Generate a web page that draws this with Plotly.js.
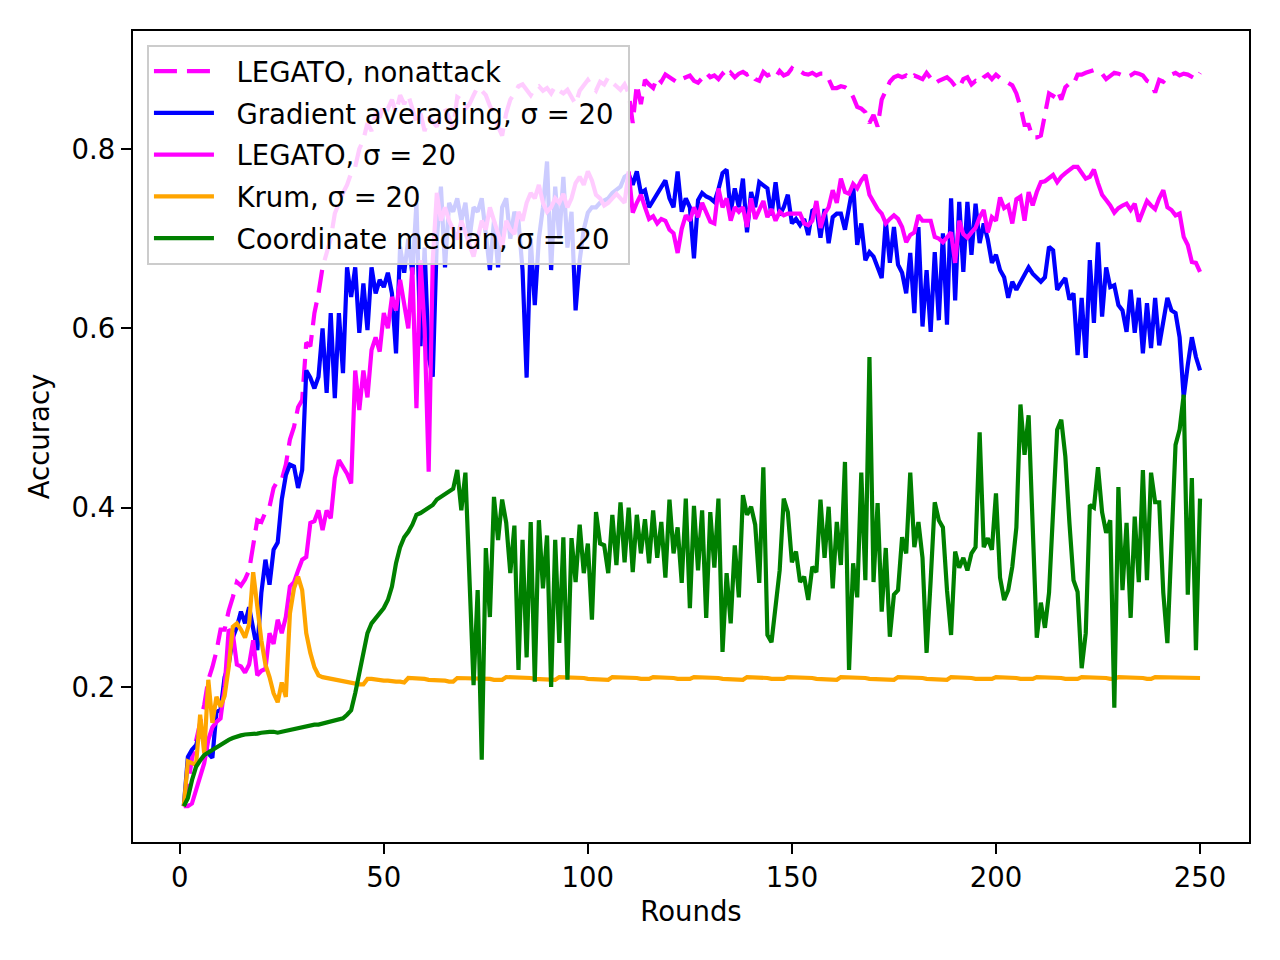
<!DOCTYPE html>
<html>
<head>
<meta charset="utf-8">
<script src="https://cdn.plot.ly/plotly-3.0.1.min.js"></script>
<style>html,body{margin:0;padding:0;background:#fff;}#chart{width:1280px;height:960px;}</style>
</head>
<body>
<div id="chart"></div>
<script>
// ---- data (accuracy per round, rounds 1..250) ----
const seriesNames = ["LEGATO, nonattack", "Gradient averaging, σ = 20", "LEGATO, σ = 20", "Krum, σ = 20", "Coordinate median, σ = 20"];
const xTickVals = [0, 50, 100, 150, 200, 250];
const yTickVals = [0.2, 0.4, 0.6, 0.8];
const yTickText = ["0.2", "0.4", "0.6", "0.8"];

const legatoClean = [
0.067,0.09,0.12,0.14,0.16,0.18,0.208,0.222,0.24,0.264,
0.264,0.285,0.30,0.317,0.313,0.32,0.33,0.36,0.386,0.384,
0.395,0.401,0.422,0.43,0.431,0.448,0.476,0.49,0.512,0.52,
0.584,0.58,0.617,0.639,0.668,0.684,0.70,0.728,0.74,0.751,
0.76,0.773,0.78,0.80,0.81,0.829,0.82,0.84,0.835,0.85,
0.845,0.855,0.84,0.86,0.85,0.86,0.845,0.83,0.84,0.82,
0.835,0.83,0.825,0.84,0.845,0.835,0.823,0.858,0.855,0.845,
0.85,0.86,0.869,0.865,0.86,0.848,0.84,0.825,0.815,0.84,
0.855,0.862,0.87,0.872,0.865,0.86,0.868,0.87,0.865,0.868,
0.862,0.87,0.865,0.862,0.866,0.858,0.85,0.865,0.872,0.877,
0.87,0.865,0.875,0.872,0.88,0.874,0.87,0.866,0.872,0.862,
0.829,0.872,0.85,0.877,0.872,0.868,0.88,0.875,0.883,0.88,
0.878,0.874,0.878,0.88,0.882,0.876,0.874,0.879,0.885,0.88,
0.882,0.878,0.884,0.879,0.885,0.88,0.884,0.886,0.883,0.885,
0.878,0.876,0.886,0.882,0.884,0.88,0.887,0.882,0.884,0.89,
0.886,0.887,0.884,0.883,0.885,0.882,0.884,0.884,0.878,0.868,
0.868,0.87,0.869,0.866,0.858,0.847,0.845,0.841,0.829,0.838,
0.825,0.855,0.866,0.875,0.88,0.882,0.88,0.882,0.878,0.882,
0.88,0.878,0.885,0.878,0.873,0.876,0.878,0.88,0.876,0.87,
0.868,0.878,0.88,0.872,0.876,0.874,0.88,0.883,0.878,0.883,
0.879,0.876,0.873,0.871,0.862,0.847,0.827,0.827,0.813,0.813,
0.815,0.84,0.862,0.859,0.866,0.855,0.869,0.873,0.872,0.883,
0.883,0.885,0.886,0.888,0.886,0.884,0.878,0.882,0.885,0.884,
0.882,0.88,0.882,0.885,0.884,0.882,0.876,0.874,0.863,0.877,
0.875,0.88,0.883,0.885,0.882,0.884,0.883,0.88,0.878,0.885];

const gradAvg = [
0.067,0.122,0.13,0.135,0.15,0.14,0.126,0.121,0.172,0.175,
0.211,0.225,0.255,0.267,0.284,0.271,0.289,0.267,0.241,0.305,
0.342,0.314,0.353,0.361,0.409,0.436,0.448,0.446,0.422,0.442,
0.553,0.545,0.533,0.546,0.60,0.528,0.617,0.522,0.617,0.55,
0.668,0.635,0.668,0.595,0.65,0.598,0.668,0.639,0.654,0.646,
0.662,0.639,0.572,0.691,0.662,0.70,0.66,0.74,0.58,0.69,
0.568,0.546,0.70,0.758,0.668,0.74,0.73,0.745,0.72,0.74,
0.70,0.735,0.73,0.745,0.70,0.665,0.72,0.668,0.735,0.745,
0.70,0.73,0.72,0.665,0.545,0.70,0.626,0.70,0.735,0.786,
0.665,0.758,0.70,0.769,0.69,0.73,0.62,0.676,0.71,0.729,
0.735,0.735,0.74,0.743,0.745,0.751,0.755,0.758,0.769,0.772,
0.76,0.775,0.751,0.754,0.735,0.743,0.751,0.758,0.765,0.745,
0.735,0.775,0.73,0.745,0.735,0.678,0.743,0.751,0.747,0.745,
0.741,0.755,0.773,0.777,0.73,0.756,0.735,0.767,0.707,0.752,
0.735,0.763,0.76,0.756,0.726,0.763,0.726,0.735,0.749,0.717,
0.722,0.715,0.722,0.704,0.731,0.734,0.701,0.733,0.695,0.724,
0.728,0.728,0.71,0.735,0.76,0.693,0.717,0.676,0.685,0.68,
0.668,0.656,0.72,0.673,0.713,0.671,0.662,0.639,0.684,0.617,
0.713,0.602,0.665,0.596,0.685,0.609,0.706,0.604,0.745,0.631,
0.741,0.663,0.741,0.682,0.739,0.695,0.717,0.699,0.673,0.682,
0.665,0.657,0.634,0.652,0.643,0.652,0.659,0.668,0.661,0.656,
0.652,0.657,0.691,0.687,0.643,0.65,0.656,0.632,0.639,0.57,
0.634,0.567,0.676,0.606,0.696,0.613,0.668,0.646,0.648,0.626,
0.62,0.596,0.643,0.595,0.634,0.572,0.628,0.578,0.634,0.581,
0.611,0.634,0.62,0.617,0.59,0.523,0.559,0.59,0.568,0.553];

const legato = [
0.067,0.067,0.07,0.085,0.096,0.115,0.141,0.155,0.161,0.165,
0.20,0.264,0.26,0.225,0.223,0.216,0.225,0.252,0.213,0.218,
0.22,0.26,0.248,0.275,0.26,0.278,0.312,0.317,0.33,0.342,
0.345,0.383,0.385,0.397,0.375,0.397,0.388,0.433,0.453,0.446,
0.438,0.427,0.553,0.509,0.553,0.523,0.576,0.59,0.574,0.617,
0.60,0.635,0.62,0.654,0.63,0.60,0.668,0.511,0.676,0.60,
0.44,0.676,0.751,0.72,0.735,0.72,0.71,0.699,0.72,0.706,
0.691,0.68,0.70,0.72,0.71,0.735,0.72,0.705,0.691,0.72,
0.71,0.705,0.73,0.72,0.74,0.751,0.745,0.76,0.74,0.73,
0.735,0.745,0.74,0.75,0.735,0.745,0.762,0.769,0.76,0.775,
0.765,0.749,0.745,0.737,0.74,0.745,0.75,0.745,0.74,0.775,
0.729,0.74,0.749,0.735,0.722,0.725,0.717,0.722,0.72,0.71,
0.706,0.684,0.711,0.726,0.72,0.735,0.724,0.74,0.729,0.719,
0.717,0.756,0.735,0.745,0.72,0.735,0.73,0.735,0.713,0.745,
0.722,0.733,0.742,0.724,0.733,0.72,0.73,0.726,0.728,0.728,
0.728,0.728,0.717,0.715,0.72,0.742,0.712,0.728,0.735,0.754,
0.74,0.767,0.752,0.75,0.761,0.756,0.765,0.771,0.749,0.741,
0.733,0.728,0.717,0.722,0.726,0.722,0.713,0.696,0.704,0.707,
0.726,0.72,0.72,0.72,0.702,0.70,0.696,0.702,0.707,0.673,
0.72,0.705,0.701,0.707,0.712,0.724,0.732,0.707,0.724,0.72,
0.746,0.734,0.737,0.717,0.744,0.747,0.72,0.752,0.737,0.752,
0.763,0.764,0.767,0.771,0.763,0.769,0.773,0.777,0.78,0.78,
0.773,0.767,0.769,0.777,0.762,0.749,0.743,0.737,0.729,0.734,
0.737,0.739,0.732,0.739,0.719,0.73,0.742,0.737,0.733,0.745,
0.754,0.735,0.732,0.726,0.728,0.702,0.693,0.674,0.673,0.663];

const krum = [
0.067,0.117,0.115,0.113,0.169,0.126,0.208,0.16,0.189,0.178,
0.19,0.222,0.267,0.271,0.264,0.255,0.27,0.328,0.29,0.252,
0.225,0.211,0.193,0.183,0.205,0.189,0.282,0.31,0.323,0.308,
0.26,0.238,0.222,0.213,0.211,0.21,0.209,0.208,0.207,0.206,
0.205,0.205,0.204,0.203,0.203,0.209,0.209,0.208,0.208,0.207,
0.207,0.206,0.206,0.206,0.205,0.21,0.21,0.209,0.209,0.209,
0.208,0.208,0.207,0.207,0.207,0.206,0.206,0.21,0.21,0.21,
0.21,0.209,0.209,0.209,0.209,0.209,0.208,0.208,0.208,0.211,
0.211,0.21,0.21,0.21,0.21,0.21,0.209,0.209,0.209,0.209,
0.208,0.208,0.211,0.211,0.21,0.21,0.21,0.21,0.21,0.209,
0.209,0.209,0.209,0.208,0.208,0.211,0.211,0.21,0.21,0.21,
0.21,0.21,0.209,0.209,0.209,0.211,0.211,0.21,0.21,0.21,
0.21,0.209,0.209,0.209,0.209,0.211,0.211,0.21,0.21,0.21,
0.21,0.21,0.209,0.209,0.209,0.209,0.209,0.208,0.211,0.211,
0.21,0.21,0.21,0.21,0.209,0.209,0.209,0.209,0.211,0.211,
0.211,0.21,0.21,0.21,0.21,0.209,0.209,0.209,0.209,0.209,
0.208,0.211,0.211,0.211,0.21,0.21,0.21,0.21,0.209,0.209,
0.209,0.209,0.209,0.209,0.208,0.211,0.211,0.21,0.21,0.21,
0.21,0.21,0.209,0.209,0.209,0.209,0.209,0.208,0.211,0.211,
0.21,0.21,0.21,0.21,0.209,0.209,0.209,0.209,0.209,0.211,
0.211,0.21,0.21,0.21,0.21,0.209,0.209,0.209,0.209,0.211,
0.211,0.211,0.21,0.21,0.21,0.21,0.209,0.209,0.209,0.209,
0.211,0.211,0.21,0.21,0.21,0.21,0.21,0.209,0.209,0.211,
0.211,0.21,0.21,0.21,0.21,0.21,0.209,0.209,0.211,0.211,
0.21,0.21,0.21,0.21,0.21,0.211,0.211,0.21,0.21,0.21];

const coordMedian = [
0.067,0.076,0.096,0.111,0.118,0.124,0.127,0.13,0.133,0.135,
0.138,0.141,0.143,0.145,0.146,0.147,0.147,0.148,0.148,0.149,
0.15,0.15,0.15,0.149,0.15,0.151,0.152,0.153,0.154,0.156,
0.157,0.157,0.158,0.158,0.159,0.16,0.161,0.163,0.164,0.165,
0.169,0.174,0.193,0.216,0.241,0.26,0.271,0.277,0.282,0.288,
0.297,0.312,0.338,0.356,0.367,0.373,0.381,0.392,0.394,0.397,
0.401,0.403,0.409,0.412,0.416,0.419,0.421,0.442,0.397,0.439,
0.319,0.202,0.308,0.119,0.355,0.278,0.412,0.364,0.409,0.383,
0.327,0.38,0.219,0.364,0.233,0.384,0.206,0.386,0.31,0.369,
0.2,0.364,0.249,0.367,0.208,0.366,0.317,0.381,0.327,0.36,
0.275,0.395,0.36,0.358,0.327,0.392,0.336,0.406,0.339,0.40,
0.328,0.392,0.349,0.387,0.338,0.397,0.344,0.384,0.322,0.409,
0.349,0.378,0.316,0.41,0.288,0.402,0.33,0.397,0.277,0.395,
0.333,0.41,0.239,0.327,0.271,0.358,0.30,0.414,0.392,0.401,
0.381,0.316,0.445,0.258,0.25,0.289,0.33,0.41,0.395,0.339,
0.351,0.317,0.323,0.297,0.334,0.328,0.409,0.344,0.401,0.31,
0.384,0.336,0.451,0.219,0.338,0.30,0.439,0.319,0.568,0.317,
0.405,0.284,0.355,0.256,0.303,0.308,0.367,0.349,0.439,0.356,
0.384,0.344,0.238,0.319,0.406,0.386,0.378,0.308,0.258,0.351,
0.333,0.344,0.33,0.349,0.356,0.484,0.356,0.366,0.353,0.416,
0.322,0.297,0.308,0.334,0.378,0.515,0.459,0.503,0.375,0.255,
0.294,0.266,0.305,0.394,0.487,0.498,0.457,0.383,0.319,0.306,
0.221,0.26,0.403,0.40,0.445,0.395,0.372,0.386,0.177,0.423,
0.308,0.383,0.277,0.39,0.317,0.442,0.319,0.439,0.406,0.406,
0.305,0.249,0.36,0.47,0.487,0.526,0.303,0.433,0.241,0.41];

const rounds = legatoClean.map((_, i) => i + 1);

// ---- styling ----
const FONT = "DejaVu Sans, Liberation Sans, sans-serif";
const FS = 27.5;
const LW = 4.2;

const styles = [
  {color: "#ff00ff", dash: "23px,10px"},
  {color: "#0000ff", dash: "solid"},
  {color: "#ff00ff", dash: "solid"},
  {color: "#ffa500", dash: "solid"},
  {color: "#008000", dash: "solid"}
];
const allSeries = [legatoClean, gradAvg, legato, krum, coordMedian];

const traces = allSeries.map((ys, k) => ({
  type: "scatter",
  mode: "lines",
  x: rounds,
  y: ys,
  // non-breaking spaces reproduce matplotlib's gap between handle and label
  name: "\u00a0\u00a0" + seriesNames[k] + "\u00a0",
  legendgroup: "g" + k,
  line: {color: styles[k].color, width: LW, dash: styles[k].dash},
  hoverinfo: "skip"
}));

const axisCommon = {
  showgrid: false,
  zeroline: false,
  showline: true,
  mirror: true,
  linecolor: "#000",
  linewidth: 2.2,
  ticks: "outside",
  ticklen: 10,
  tickwidth: 2.2,
  tickcolor: "#000",
  tickfont: {family: FONT, size: FS, color: "#000"},
  automargin: false
};

const layout = {
  width: 1280,
  height: 960,
  margin: {l: 133, r: 31, t: 31, b: 118, pad: 0},
  paper_bgcolor: "#fff",
  plot_bgcolor: "#fff",
  font: {family: FONT, size: FS, color: "#000"},
  showlegend: true,
  legend: {
    x: 0.0125, y: 0.983, xanchor: "left", yanchor: "top",
    bgcolor: "rgba(255,255,255,0.8)",
    bordercolor: "#cccccc",
    borderwidth: 2,
    font: {family: FONT, size: FS, color: "#000"},
    traceorder: "grouped",
    tracegroupgap: 3,
    itemwidth: 60
  },
  xaxis: Object.assign({}, axisCommon, {
    range: [-11.45, 262.0],
    tickmode: "array",
    tickvals: xTickVals,
    title: {text: "Rounds", font: {family: FONT, size: FS, color: "#000"}, standoff: 10}
  }),
  yaxis: Object.assign({}, axisCommon, {
    range: [0.0271, 0.9316],
    tickmode: "array",
    tickvals: yTickVals,
    ticktext: yTickText,
    title: {text: "Accuracy", font: {family: FONT, size: FS, color: "#000"}, standoff: 14}
  })
};

Plotly.newPlot("chart", traces, layout, {displayModeBar: false, staticPlot: true});
</script>
</body>
</html>
